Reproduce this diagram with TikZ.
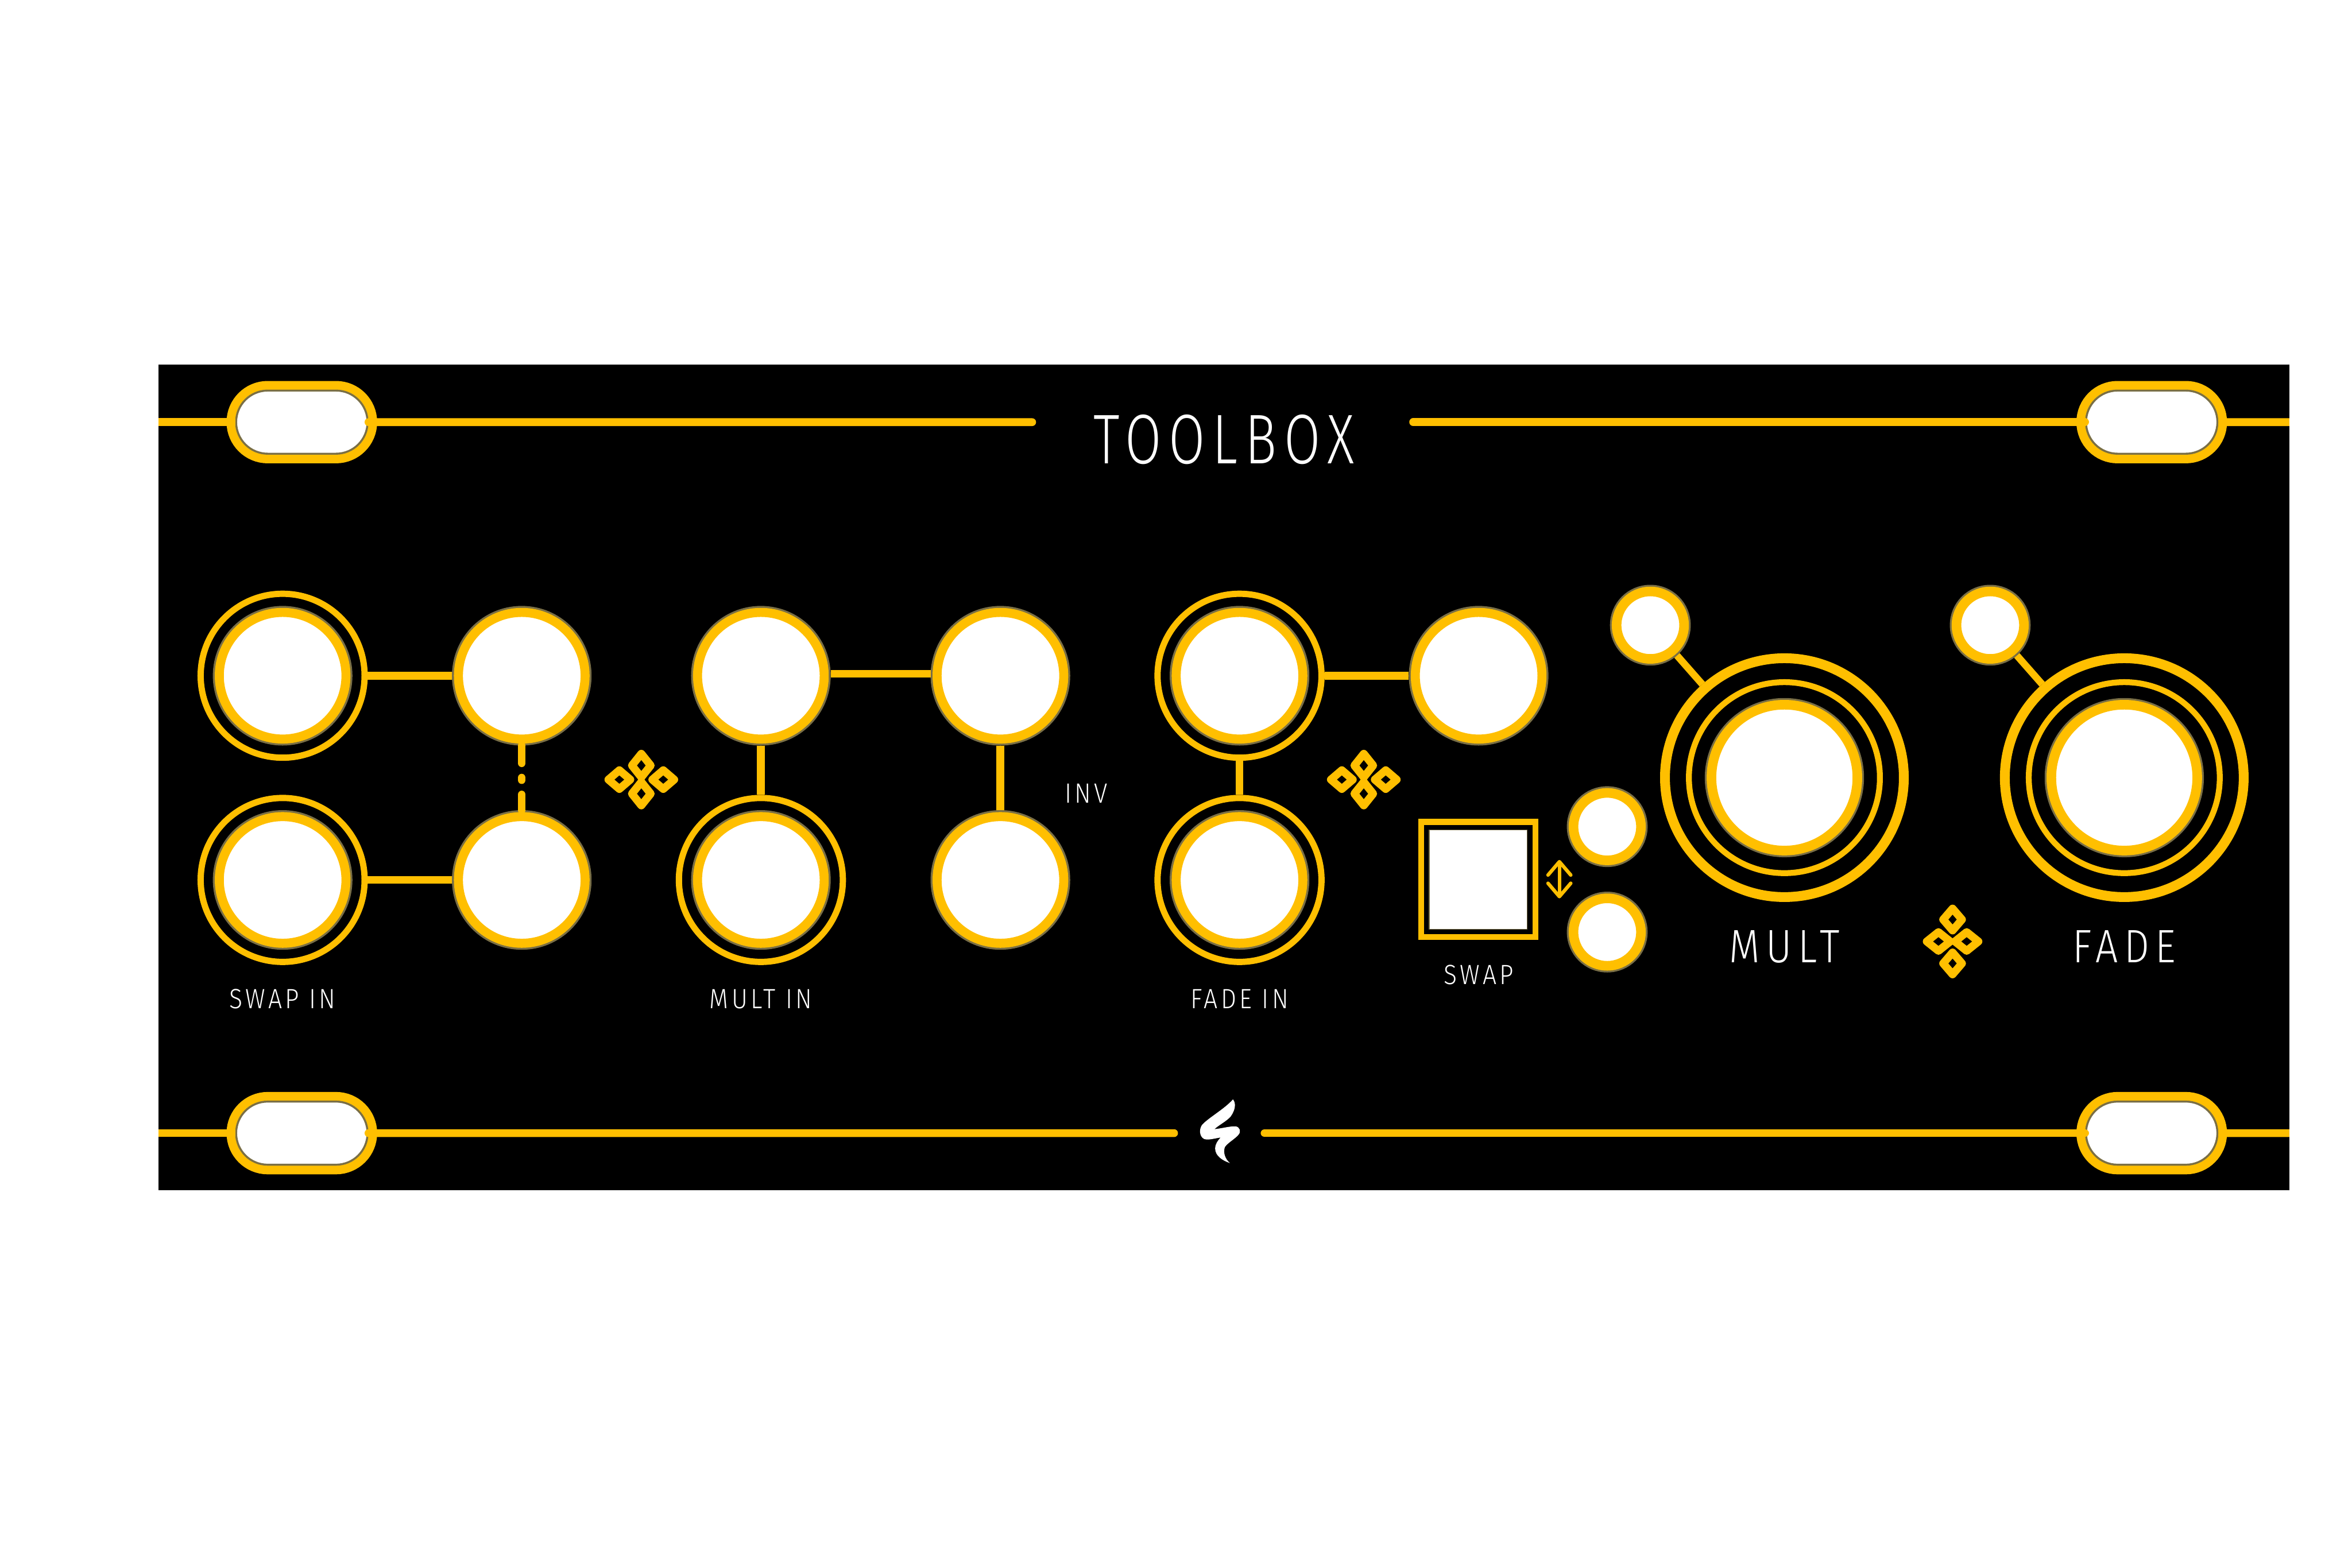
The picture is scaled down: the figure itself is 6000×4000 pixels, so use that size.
\documentclass[tikz,border=0pt]{standalone}
\usepackage{fontspec}
\setmainfont{Fira Sans Light}
\usepackage{tikz}
\usetikzlibrary{shapes.misc,arrows.meta}
\definecolor{panelamber}{RGB}{255,191,0}
\definecolor{jackedge}{RGB}{122,111,69}
\tikzset{
 jack/.style={circle,fill=white,draw=panelamber,line width=2.3mm,inner sep=0pt,outer sep=1.65mm,
  minimum size=32.3mm,preaction={draw=jackedge,line width=3.3mm}},
 ring/.style={circle,draw=panelamber,line width=1.6mm,inner sep=0pt,minimum size=41.8mm},
 trim/.style={circle,fill=white,draw=panelamber,line width=2.45mm,inner sep=0pt,outer sep=1.7mm,
  minimum size=17.2mm,preaction={draw=jackedge,line width=3.4mm}},
 knob/.style={circle,fill=white,draw=panelamber,line width=2.45mm,inner sep=0pt,
  minimum size=37.2mm,preaction={draw=jackedge,line width=3.4mm}},
 slot/.style={rounded rectangle,fill=white,draw=jackedge,line width=.5mm,inner sep=0pt,
  minimum width=33.5mm,minimum height=16.1mm,
  preaction={draw=panelamber,line width=4.9mm}},
 bar/.style={draw=panelamber,line width=2mm},
 small/.style={text=white,inner sep=0pt,font=\fontsize{20.2}{20.2}\selectfont\addfontfeature{FakeStretch=.88,LetterSpace=11}},
 big/.style={text=white,inner sep=0pt,font=\fontsize{34}{34}\selectfont\addfontfeature{FakeStretch=.85,LetterSpace=13}},
}
\begin{document}
\begin{tikzpicture}[x=.01cm,y=-.01cm]
 \useasboundingbox (0,0) rectangle (6000,4000);
 \fill[white] (0,0) rectangle (6000,4000);
 \fill[black] (404,930) rectangle (5840,3037);
 % rails and mounting slots
 \coordinate (edgeal) at (404,1077);
 \coordinate (edgear) at (5840,1077);
 \coordinate (edgebl) at (404,2891);
 \coordinate (edgebr) at (5840,2891);
 \coordinate (titlel) at (2633,1077);
 \coordinate (titler) at (3605,1077);
 \coordinate (logol) at (2995,2891);
 \coordinate (logor) at (3226,2891);
 \node[slot] (slotal) at (770,1077) {};
 \node[slot] (slotar) at (5489,1077) {};
 \node[slot] (slotbl) at (770,2891) {};
 \node[slot] (slotbr) at (5489,2891) {};
 \draw[bar] (edgeal)--(slotal);
 \draw[bar,line cap=round] (slotal)--(titlel);
 \draw[bar,line cap=round] (titler)--(slotar);
 \draw[bar] (slotar)--(edgear);
 \draw[bar] (edgebl)--(slotbl);
 \draw[bar,line cap=round] (slotbl)--(logol);
 \draw[bar,line cap=round] (logor)--(slotbr);
 \draw[bar] (slotbr)--(edgebr);
 \node[text=white,inner sep=0pt,font=\fontsize{51}{51}\selectfont\addfontfeature{FakeStretch=.75,LetterSpace=10.5}] (title) at (3122,1122) {TOOLBOX};
 % jacks
 \foreach \name/\x/\y in {a/721/1724,b/1331/1724,c/1941/1724,d/2552/1724,e/3162/1724,f/3772/1724,
  g/721/2245,h/1331/2245,i/1941/2245,j/2552/2245,k/3162/2245}{
  \node[jack] (jack\name) at (\x,\y) {};
 }
 \foreach \name in {a,e,g,i,k}{
  \node[ring] (ring\name) at (jack\name) {};
 }
 \draw[bar] (ringa)--(jackb);
 \draw[bar] (ringg)--(jackh);
 \draw[bar] ([yshift=.5mm]jackc.east)--([yshift=.5mm]jackd.west);
 \draw[bar] (ringe)--(jackf);
 \draw[bar] (jackc)--(ringi);
 \draw[bar] (jackd)--(jackj);
 \draw[bar] (ringe)--(ringk);
 \draw[bar,line cap=round,dash pattern=on 4.5mm off 3.7mm on .6mm off 3.7mm on 5mm] (jackb)--(jackh);
 \node[small] (swapin) at (721,2549) {SWAP IN};
 \node[small] (multin) at (1941,2549) {MULT IN};
 \node[small] (fadein) at (3162,2549) {FADE IN};
 \node[small] (inv) at (2771,2024) {INV};
 % swap button
 \node[rectangle,draw=panelamber,line width=1.5mm,inner sep=0pt,minimum width=29.1mm,minimum height=29.4mm] (buttonframe) at (3771,2244) {};
 \node[rectangle,fill=white,draw=jackedge,line width=.2mm,inner sep=0pt,minimum width=25mm,minimum height=25.3mm] (button) at (buttonframe) {};
 \node[small] (swap) at (3772,2487) {SWAP};
 \node[trim] (trima) at (4100,2109) {};
 \node[trim] (trimb) at (4100,2378) {};
 \coordinate (arrowa) at (3978,2194);
 \coordinate (arrowb) at (3978,2292);
 \draw[draw=panelamber,line width=.9mm,line cap=round,line join=round,
  {Straight Barb[length=3.4mm,width=5.8mm,round]}-{Straight Barb[length=3.4mm,width=5.8mm,round]}] (arrowa)--(arrowb);
 % big knobs
 \foreach \name/\x/\lab in {mult/4552/MULT,fade/5419/FADE}{
  \node[knob] (knob\name) at (\x,1984) {};
  \node[circle,draw=panelamber,line width=1.5mm,inner sep=0pt,minimum size=48.7mm] (inner\name) at (knob\name) {};
  \node[circle,draw=panelamber,line width=2.5mm,inner sep=0pt,minimum size=60.9mm] (outer\name) at (knob\name) {};
  \node[big] (label\name) at (\x,2415) {\lab};
 }
 \node[trim] (trimm) at (4210,1595) {};
 \node[trim] (trimf) at (5077,1595) {};
 \draw[draw=panelamber,line width=1.8mm] (trimm)--(outermult);
 \draw[draw=panelamber,line width=1.8mm] (trimf)--(outerfade);
 % knot marks
 \foreach \x/\y/\a in {1636/1989/0,3479/1989/0,4981/2402/90}{
  \begin{scope}[shift={(\x,\y)},rotate=\a,draw=panelamber,line width=2mm,line join=round]
   \draw (0,-66)--(24,-36)--(0,-6)--(-24,-36)--cycle;
   \draw (0,66)--(24,36)--(0,6)--(-24,36)--cycle;
   \draw (-84,0)--(-56,-24)--(-28,0)--(-56,24)--cycle;
   \draw (84,0)--(56,-24)--(28,0)--(56,24)--cycle;
  \end{scope}
 }
 % maker mark
 \begin{scope}[shift={(2950,2750)},x=.00333cm,y=-.00333cm]
  \fill[white] (587,165) .. controls (612,195) and (605,245) .. (570,295)
   .. controls (535,335) and (480,360) .. (445,393)
   .. controls (500,388) and (570,368) .. (610,372)
   .. controls (640,380) and (650,410) .. (630,435)
   .. controls (600,470) and (550,495) .. (525,530)
   .. controls (510,570) and (525,620) .. (563,653)
   .. controls (510,635) and (450,600) .. (450,540)
   .. controls (450,510) and (470,480) .. (492,457)
   .. controls (440,465) and (395,480) .. (365,468)
   .. controls (330,450) and (325,395) .. (350,360)
   .. controls (400,305) and (520,240) .. (587,165) -- cycle;
 \end{scope}
\end{tikzpicture}
\end{document}
